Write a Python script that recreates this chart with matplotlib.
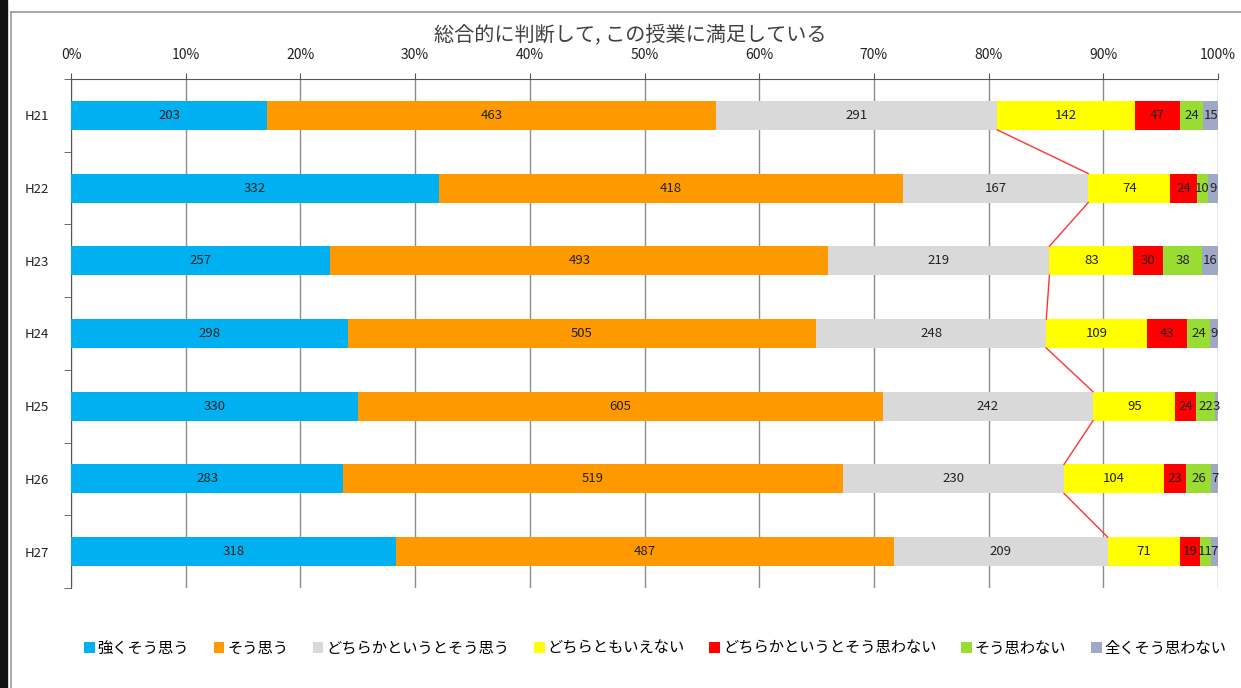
import numpy as np
from matplotlib import pyplot as plt
from matplotlib.patches import Rectangle
from matplotlib.lines import Line2D

plt.rcParams['font.family'] = ['Noto Sans CJK JP', 'DejaVu Sans']

years = ['H21', 'H22', 'H23', 'H24', 'H25', 'H26', 'H27']
labels = ['強くそう思う', 'そう思う', 'どちらかというとそう思う', 'どちらともいえない',
          'どちらかというとそう思わない', 'そう思わない', '全くそう思わない']
strong_yes = [203, 332, 257, 298, 330, 283, 318]
yes = [463, 418, 493, 505, 605, 519, 487]
rather_yes = [291, 167, 219, 248, 242, 230, 209]
neutral = [142, 74, 83, 109, 95, 104, 71]
rather_no = [47, 24, 30, 43, 24, 23, 19]
no = [24, 10, 38, 24, 22, 26, 11]
strong_no = [15, 9, 16, 9, 3, 7, 7]
tick_labels = ['0%', '10%', '20%', '30%', '40%', '50%', '60%', '70%', '80%', '90%', '100%']

colors = ['#00B0F0', '#FF9900', '#D9D9D9', '#FFFF00', '#FF0000', '#99DD33', '#A0A8C8']

counts = np.array([strong_yes, yes, rather_yes, neutral, rather_no, no, strong_no], dtype=float)
totals = counts.sum(axis=0)
pct = counts / totals

fig = plt.figure(figsize=(12.41, 6.88), dpi=100)

# outer frame like the screenshot
fig.patches.append(Rectangle((0, 0), 7 / 1241, 1, transform=fig.transFigure, color='#111111', zorder=0))
fig.lines.append(Line2D([11 / 1241, 11 / 1241], [0, 1 - 12 / 688], transform=fig.transFigure, color='#999999', lw=1.2))
fig.lines.append(Line2D([11 / 1241, 1], [1 - 12 / 688, 1 - 12 / 688], transform=fig.transFigure, color='#999999', lw=1.2))

ax = fig.add_axes([71 / 1241, 1 - 588 / 688, 1147 / 1241, 509 / 688])

y = np.arange(len(years))
bar_h = 0.4
left = np.zeros(len(years))
for k in range(len(labels)):
    ax.barh(y, pct[k], left=left, height=bar_h, color=colors[k], label=labels[k], zorder=3)
    for i in range(len(years)):
        ax.text(left[i] + pct[k][i] / 2, y[i], '%d' % counts[k][i], ha='center', va='center',
                fontsize=9.5, color='#222222', zorder=5)
    left = left + pct[k]

# series lines between the "どちらかというとそう思う" ends
cum3 = pct[0] + pct[1] + pct[2]
for i in range(len(years) - 1):
    ax.plot([cum3[i], cum3[i + 1]], [y[i] + bar_h / 2, y[i + 1] - bar_h / 2], color='#FF3333', lw=1, zorder=4)

ax.set_xlim(0, 1)
ax.set_ylim(len(years) - 0.5, -0.5)
ax.set_xticks(np.linspace(0, 1, 11))
ax.set_xticklabels(tick_labels)
ax.xaxis.tick_top()
ax.tick_params(axis='x', direction='out', length=4, pad=8, labelsize=10, color='#555555', labelcolor='#222222')
ax.set_yticks(y)
ax.set_yticklabels(years)
ax.set_yticks(np.arange(len(years) + 1) - 0.5, minor=True)
ax.tick_params(axis='y', which='major', length=0, pad=16, labelsize=9.5, labelcolor='#222222')
ax.tick_params(axis='y', which='minor', direction='out', length=5, color='#555555')
ax.grid(axis='x', color='#8C8C8C', lw=1, zorder=0)
ax.spines['right'].set_visible(False)
ax.spines['bottom'].set_visible(False)
ax.spines['top'].set_color('#555555')
ax.spines['left'].set_color('#555555')

fig.text(0.508, 1 - 35 / 688, '総合的に判断して, この授業に満足している', ha='center', va='center',
         fontsize=14.5, color='#404040')

fig.legend(loc='center', bbox_to_anchor=(0.528, 1 - 648 / 688), ncol=7, frameon=False,
           fontsize=11, handlelength=0.7, handleheight=0.7, handletextpad=0.2, columnspacing=1.6)

fig.savefig('out.png', dpi=100)
